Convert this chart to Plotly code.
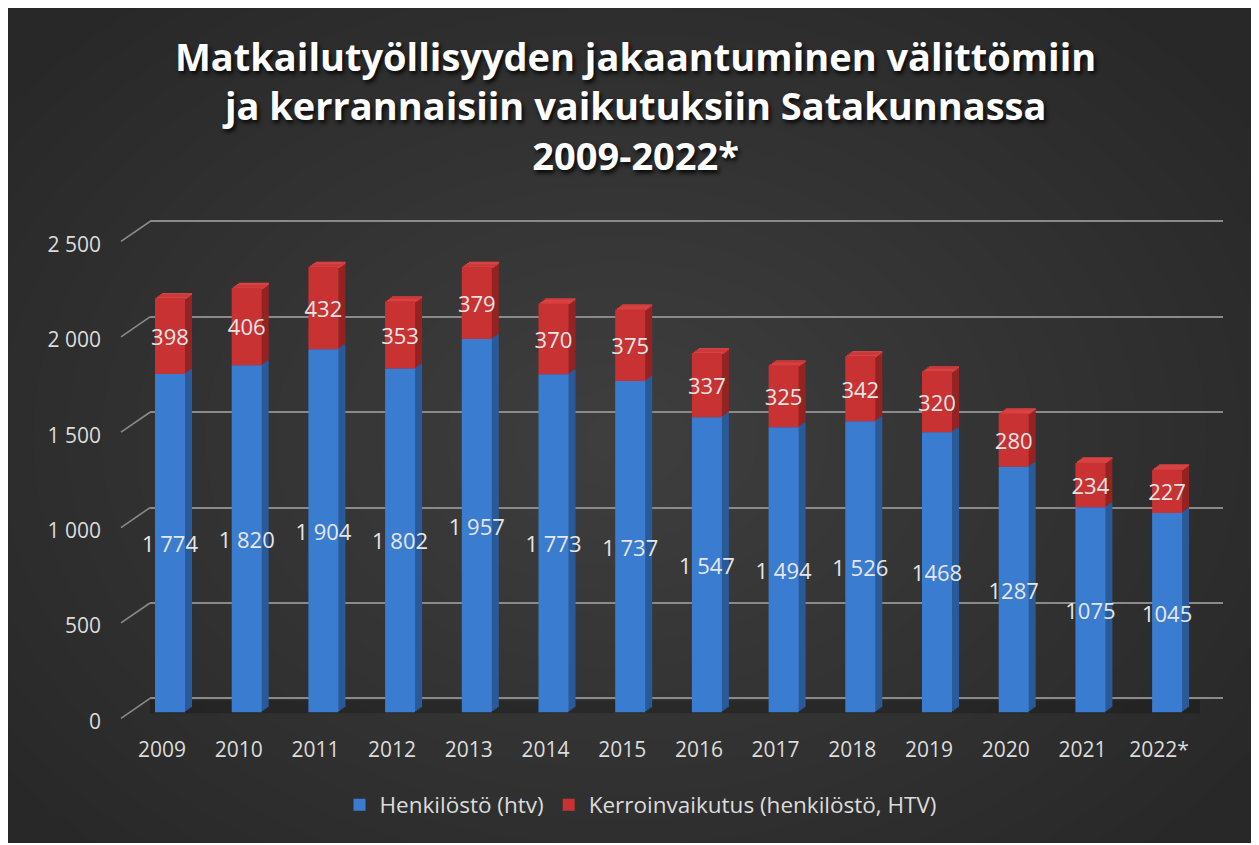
import plotly.graph_objects as go

# ---------------- data ----------------
years = ["2009", "2010", "2011", "2012", "2013", "2014", "2015",
         "2016", "2017", "2018", "2019", "2020", "2021", "2022*"]
henkilosto = [1774, 1820, 1904, 1802, 1957, 1773, 1737, 1547, 1494, 1526, 1468, 1287, 1075, 1045]
kerroin = [398, 406, 432, 353, 379, 370, 375, 337, 325, 342, 320, 280, 234, 227]
henk_labels = ["1 774", "1 820", "1 904", "1 802", "1 957", "1 773", "1 737",
               "1 547", "1 494", "1 526", "1468", "1287", "1075", "1045"]
kerr_labels = ["398", "406", "432", "353", "379", "370", "375",
               "337", "325", "342", "320", "280", "234", "227"]
ytick_vals = [0, 500, 1000, 1500, 2000, 2500]
ytick_text = ["0", "500", "1 000", "1 500", "2 000", "2 500"]
name_henk = "Henkilöstö (htv)"
name_kerr = "Kerroinvaikutus (henkilöstö, HTV)"
title_text = ("Matkailutyöllisyyden jakaantuminen välittömiin<br>"
              "ja kerrannaisiin vaikutuksiin Satakunnassa<br>2009-2022*")

totals = [a + b for a, b in zip(henkilosto, kerroin)]
henk_mid = [a / 2 for a in henkilosto]
kerr_mid = [a + b / 2 for a, b in zip(henkilosto, kerroin)]

# ---------------- geometry (screen pixels; page body has an 8px margin) ----------------
OX, OY = 8, 8
FW, FH = 1251, 837
S = 0.1912            # px per unit
YLO, YMAX = -60, 2700
XC0, XSTEP = 170.0, 76.7
BAR_PX = 30.0
N_LAYERS = 4
DX, DY = 7.0 / N_LAYERS, 5.0 / N_LAYERS
BASE_FRONT = 714.0
BASE_GRID = 700.0
BASE_CONN = 720.0
BASE_LABEL = 723.0
TEXT_LIFT = -3.5

def fx(sx):
    return (sx - OX) / FW

def fy(sy):
    return 1 - (sy - OY) / FH

def ydom(py0):
    bottom = py0 - YLO * S
    top = py0 - YMAX * S
    return [fy(bottom), fy(top)]

def xdom(shift=0.0):
    a = XC0 - 0.5 * XSTEP + shift
    b = XC0 + (len(years) - 0.5) * XSTEP + shift
    return [fx(a), fx(b)]

bar_w = BAR_PX / XSTEP
FONT = "Open Sans"
TXT = "#dcdcdc"

c_blue, c_blue_side = "#3a7cd0", "#2a5a98"
c_red, c_red_side, c_red_top = "#c93232", "#952323", "#d84242"

fig = go.Figure()
layout = dict()
hidden = dict(visible=False, showgrid=False, zeroline=False, fixedrange=True)
cat = dict(type="category", categoryorder="array", categoryarray=years,
           range=[-0.5, len(years) - 0.5])

# subplot 1: full-page pixel space (tick connectors)
layout["xaxis"] = dict(hidden, domain=[0, 1], range=[OX, OX + FW], anchor="y")
layout["yaxis"] = dict(hidden, domain=[0, 1], range=[OY + FH, OY], anchor="x")
conn_x, conn_y = [], []
for t in ytick_vals:
    conn_x += [121, 150, None]
    conn_y += [BASE_CONN - t * S, BASE_GRID - t * S, None]
fig.add_trace(go.Scatter(x=conn_x, y=conn_y, mode="lines", xaxis="x", yaxis="y",
                         line=dict(color="#8a8a8a", width=1.6), hoverinfo="skip",
                         showlegend=False))

# subplot 2: back-wall gridlines
layout["xaxis2"] = dict(hidden, domain=[fx(150), fx(1223)], range=[0, 1], anchor="y2")
layout["yaxis2"] = dict(domain=ydom(BASE_GRID), range=[YLO, YMAX], anchor="x2",
                        tickvals=ytick_vals, showticklabels=False, ticks="",
                        showgrid=True, gridcolor="#8a8a8a", gridwidth=2,
                        zeroline=False, showline=False, fixedrange=True)
fig.add_trace(go.Scatter(x=[0.5], y=[0], xaxis="x2", yaxis="y2", mode="markers",
                         marker=dict(opacity=0), hoverinfo="skip", showlegend=False))

# subplot 3: axis labels at the front level
tick_font = dict(family=FONT, size=21, color=TXT)
layout["xaxis3"] = dict(cat, domain=xdom(-8), anchor="y3", showgrid=False, zeroline=False,
                        showline=False, ticks="", tickfont=tick_font, fixedrange=True,
                        ticklabelstandoff=2)
layout["yaxis3"] = dict(domain=ydom(BASE_LABEL), range=[YLO, YMAX], anchor="free",
                        position=fx(101), tickvals=ytick_vals, ticktext=ytick_text,
                        ticks="", showgrid=False, zeroline=False, showline=False,
                        fixedrange=True, tickfont=tick_font)
fig.add_trace(go.Scatter(x=years, y=[0] * len(years), xaxis="x3", yaxis="y3",
                         mode="markers", marker=dict(opacity=0), hoverinfo="skip",
                         showlegend=False))

# subplots 4..7: extrusion layers (deepest first)
top_h = 1.3 * DY / S
ax_id = 4
for k in range(N_LAYERS, 0, -1):
    xa, ya = f"x{ax_id}", f"y{ax_id}"
    layout[f"xaxis{ax_id}"] = dict(hidden, **cat, domain=xdom(k * DX), anchor=ya)
    layout[f"yaxis{ax_id}"] = dict(hidden, domain=ydom(BASE_FRONT - k * DY),
                                   range=[YLO, YMAX], anchor=xa)
    common = dict(x=years, xaxis=xa, yaxis=ya, width=bar_w, hoverinfo="skip",
                  showlegend=False, marker_line_width=0)
    fig.add_trace(go.Bar(y=henkilosto, marker_color=c_blue_side, **common))
    fig.add_trace(go.Bar(y=kerroin, base=henkilosto, marker_color=c_red_side, **common))
    fig.add_trace(go.Bar(y=[top_h] * len(years), base=[t - top_h for t in totals],
                         marker_color=c_red_top, **common))
    ax_id += 1

# subplot 8: front faces
layout["xaxis8"] = dict(hidden, **cat, domain=xdom(0), anchor="y8")
layout["yaxis8"] = dict(hidden, domain=ydom(BASE_FRONT), range=[YLO, YMAX], anchor="x8")
fig.add_trace(go.Bar(x=years, y=henkilosto, name=name_henk, xaxis="x8", yaxis="y8",
                     width=bar_w, marker=dict(color=c_blue, line_width=0),
                     hoverinfo="skip"))
fig.add_trace(go.Bar(x=years, y=kerroin, base=henkilosto, name=name_kerr, xaxis="x8",
                     yaxis="y8", width=bar_w, marker=dict(color=c_red, line_width=0),
                     hoverinfo="skip"))

# subplot 9: value labels
layout["xaxis9"] = dict(hidden, **cat, domain=xdom(0), anchor="y9")
layout["yaxis9"] = dict(hidden, domain=ydom(BASE_FRONT - TEXT_LIFT), range=[YLO, YMAX],
                        anchor="x9")
lbl_font = dict(family=FONT, size=22, color="#e6e6e6")
fig.add_trace(go.Scatter(x=years, y=henk_mid, text=henk_labels, mode="text",
                         textposition="middle center", textfont=lbl_font,
                         xaxis="x9", yaxis="y9", hoverinfo="skip", showlegend=False,
                         cliponaxis=False))
fig.add_trace(go.Scatter(x=years, y=kerr_mid, text=kerr_labels, mode="text",
                         textposition="middle center", textfont=lbl_font,
                         xaxis="x9", yaxis="y9", hoverinfo="skip", showlegend=False,
                         cliponaxis=False))

# ---------------- background shapes ----------------
shapes = []
shapes.append(dict(type="rect", xref="paper", yref="paper", layer="below",
                   x0=0, x1=fx(1258), y0=0, y1=1,
                   fillcolor="#282828", line_width=0))
cx, cy = 620.0, 440.0
n_glow = 22
for i in range(n_glow):
    f = 1 - i / n_glow
    rx, ry = 760 * f, 560 * f
    shapes.append(dict(type="circle", xref="paper", yref="paper", layer="below",
                       x0=fx(cx - rx), x1=fx(cx + rx),
                       y0=fy(cy + ry), y1=fy(cy - ry),
                       fillcolor="rgba(255,255,255,0.0085)", line_width=0))
shapes.append(dict(type="rect", xref="paper", yref="paper", layer="below",
                   x0=fx(150), x1=fx(1200), y0=fy(715), y1=fy(702),
                   fillcolor="rgba(0,0,0,0.2)", line_width=0))

fig.update_layout(
    **layout,
    width=FW, height=FH,
    margin=dict(l=0, r=0, t=0, b=0),
    paper_bgcolor="white",
    plot_bgcolor="rgba(0,0,0,0)",
    barmode="overlay",
    shapes=shapes,
    annotations=[dict(text=title_text, xref="paper", yref="paper", x=fx(636),
                      y=fy(106), xanchor="center", yanchor="middle",
                      showarrow=False, align="center",
                      font=dict(family=FONT, size=38, weight=700, color="white",
                                shadow="2px 3px 4px rgba(0,0,0,0.85)"))],
    legend=dict(orientation="h", x=fx(641), xanchor="center", y=fy(807),
                yanchor="middle", bgcolor="rgba(0,0,0,0)",
                font=dict(family=FONT, size=22.5, color=TXT), itemwidth=30),
    showlegend=True,
)

fig.write_html("out.html")
